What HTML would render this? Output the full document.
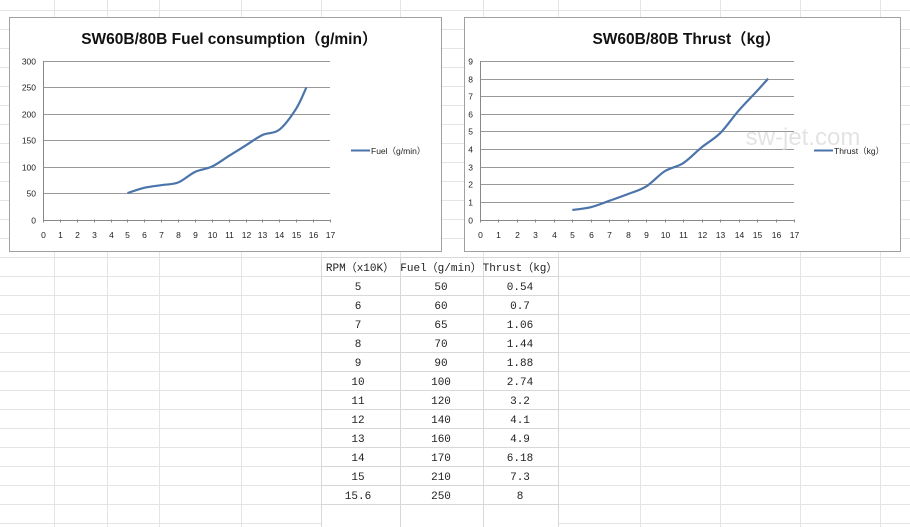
<!DOCTYPE html>
<html><head><meta charset="utf-8"><style>
body{margin:0;background:#fff;}
svg{display:block;font-family:"Liberation Sans","Noto Sans CJK SC",sans-serif;}
.tb{font-family:"Liberation Mono","Noto Sans CJK SC",monospace;font-size:11px;fill:#222;}
</style></head><body>
<svg id="s" width="910" height="527" xmlns="http://www.w3.org/2000/svg"></svg>
<script>
const s=document.getElementById('s');let h='';
// background spreadsheet grid
for(let y=257-19*14;y<527;y+=19){h+=`<line x1="0" x2="910" y1="${y+.5}" y2="${y+.5}" stroke="#e4e4e4"/>`;}
[54,107,159,241,321,400,483,558,640,720,800,880].forEach(x=>{h+=`<line x1="${x+.5}" x2="${x+.5}" y1="0" y2="527" stroke="#e4e4e4"/>`;});
// table
h+=`<rect x="321" y="257" width="237" height="270" fill="#fff"/>`;
for(let i=0;i<14;i++){let y=257+19*i;h+=`<line x1="321" x2="558" y1="${y+.5}" y2="${y+.5}" stroke="#d8d8d8"/>`;}
[321,400,483,558].forEach(x=>h+=`<line x1="${x+.5}" x2="${x+.5}" y1="257" y2="527" stroke="#d8d8d8"/>`);
const rpm=[5,6,7,8,9,10,11,12,13,14,15,15.6],fuel=[50,60,65,70,90,100,120,140,160,170,210,250],th=[0.54,0.7,1.06,1.44,1.88,2.74,3.2,4.1,4.9,6.18,7.3,8];
const thS=['0.54','0.7','1.06','1.44','1.88','2.74','3.2','4.1','4.9','6.18','7.3','8'];
h+=`<text class="tb" x="360" y="271" text-anchor="middle">RPM（x10K）</text><text class="tb" x="441" y="271" text-anchor="middle">Fuel（g/min）</text><text class="tb" x="520" y="271" text-anchor="middle">Thrust（kg）</text>`;
for(let i=0;i<12;i++){let y=290+19*i;h+=`<text class="tb" x="358" y="${y}" text-anchor="middle">${rpm[i]}</text><text class="tb" x="441" y="${y}" text-anchor="middle">${fuel[i]}</text><text class="tb" x="520" y="${y}" text-anchor="middle">${thS[i]}</text>`;}
function chart(bx,bw,title,x0,x17,ymax,ystep,vals,leg,lx){
 h+=`<rect x="${bx+.5}" y="17.5" width="${bw}" height="234" fill="#fff" stroke="#a0a0a0"/>`;
 const yt=61,yb=219.5,sx=(x17-x0)/17,sy=(yb-yt)/ymax;
 h+=`<text x="${bx+bw*0.51}" y="44" text-anchor="middle" font-size="15.5" font-weight="bold" fill="#111">${title}</text>`;
 for(let v=0;v<=ymax;v+=ystep){let y=Math.round(yb-v*sy)+.5;
  h+=`<line x1="${x0}" x2="${x17}" y1="${y}" y2="${y}" stroke="${v==0?'#888':'#999'}"/>`;
  h+=`<text x="${x0-7}" y="${y+3}" text-anchor="end" font-size="8.5" fill="#222">${v}</text>`;}
 h+=`<line x1="${x0+.5}" x2="${x0+.5}" y1="${yt}" y2="${yb}" stroke="#888"/>`;
 for(let i=0;i<=17;i++){let x=Math.round(x0+i*sx)+.5;h+=`<line x1="${x}" x2="${x}" y1="${yb}" y2="${yb+3}" stroke="#888"/><text x="${x}" y="238" text-anchor="middle" font-size="8.5" fill="#222">${i}</text>`;}
 const p=rpm.map((r,i)=>[x0+r*sx,yb-vals[i]*sy]);
 let d=`M${p[0][0]},${p[0][1]}`;
 for(let i=0;i<p.length-1;i++){const a=p[i-1]||p[i],b=p[i],c=p[i+1],e=p[i+2]||c;
  d+=` C${b[0]+(c[0]-a[0])/6},${b[1]+(c[1]-a[1])/6} ${c[0]-(e[0]-b[0])/6},${c[1]-(e[1]-b[1])/6} ${c[0]},${c[1]}`;}
 h+=`<path d="${d}" fill="none" stroke="#4a74aa" stroke-width="2.2"/>`;
 h+=`<line x1="${lx}" x2="${lx+19}" y1="150.5" y2="150.5" stroke="#4a74aa" stroke-width="2"/><text x="${lx+20}" y="154" font-size="8.5" fill="#222">${leg}</text>`;
}
chart(9,432,'SW60B/80B Fuel consumption（g/min）',43,330,300,50,fuel,'Fuel（g/min）',351);
chart(464,436,'SW60B/80B Thrust（kg）',480,794,9,1,th,'Thrust（kg）',814);
h+=`<text x="803" y="145" text-anchor="middle" font-size="24" fill="#ddd" opacity="0.8">sw-jet.com</text>`;
s.innerHTML=h;
</script>
</body></html>
